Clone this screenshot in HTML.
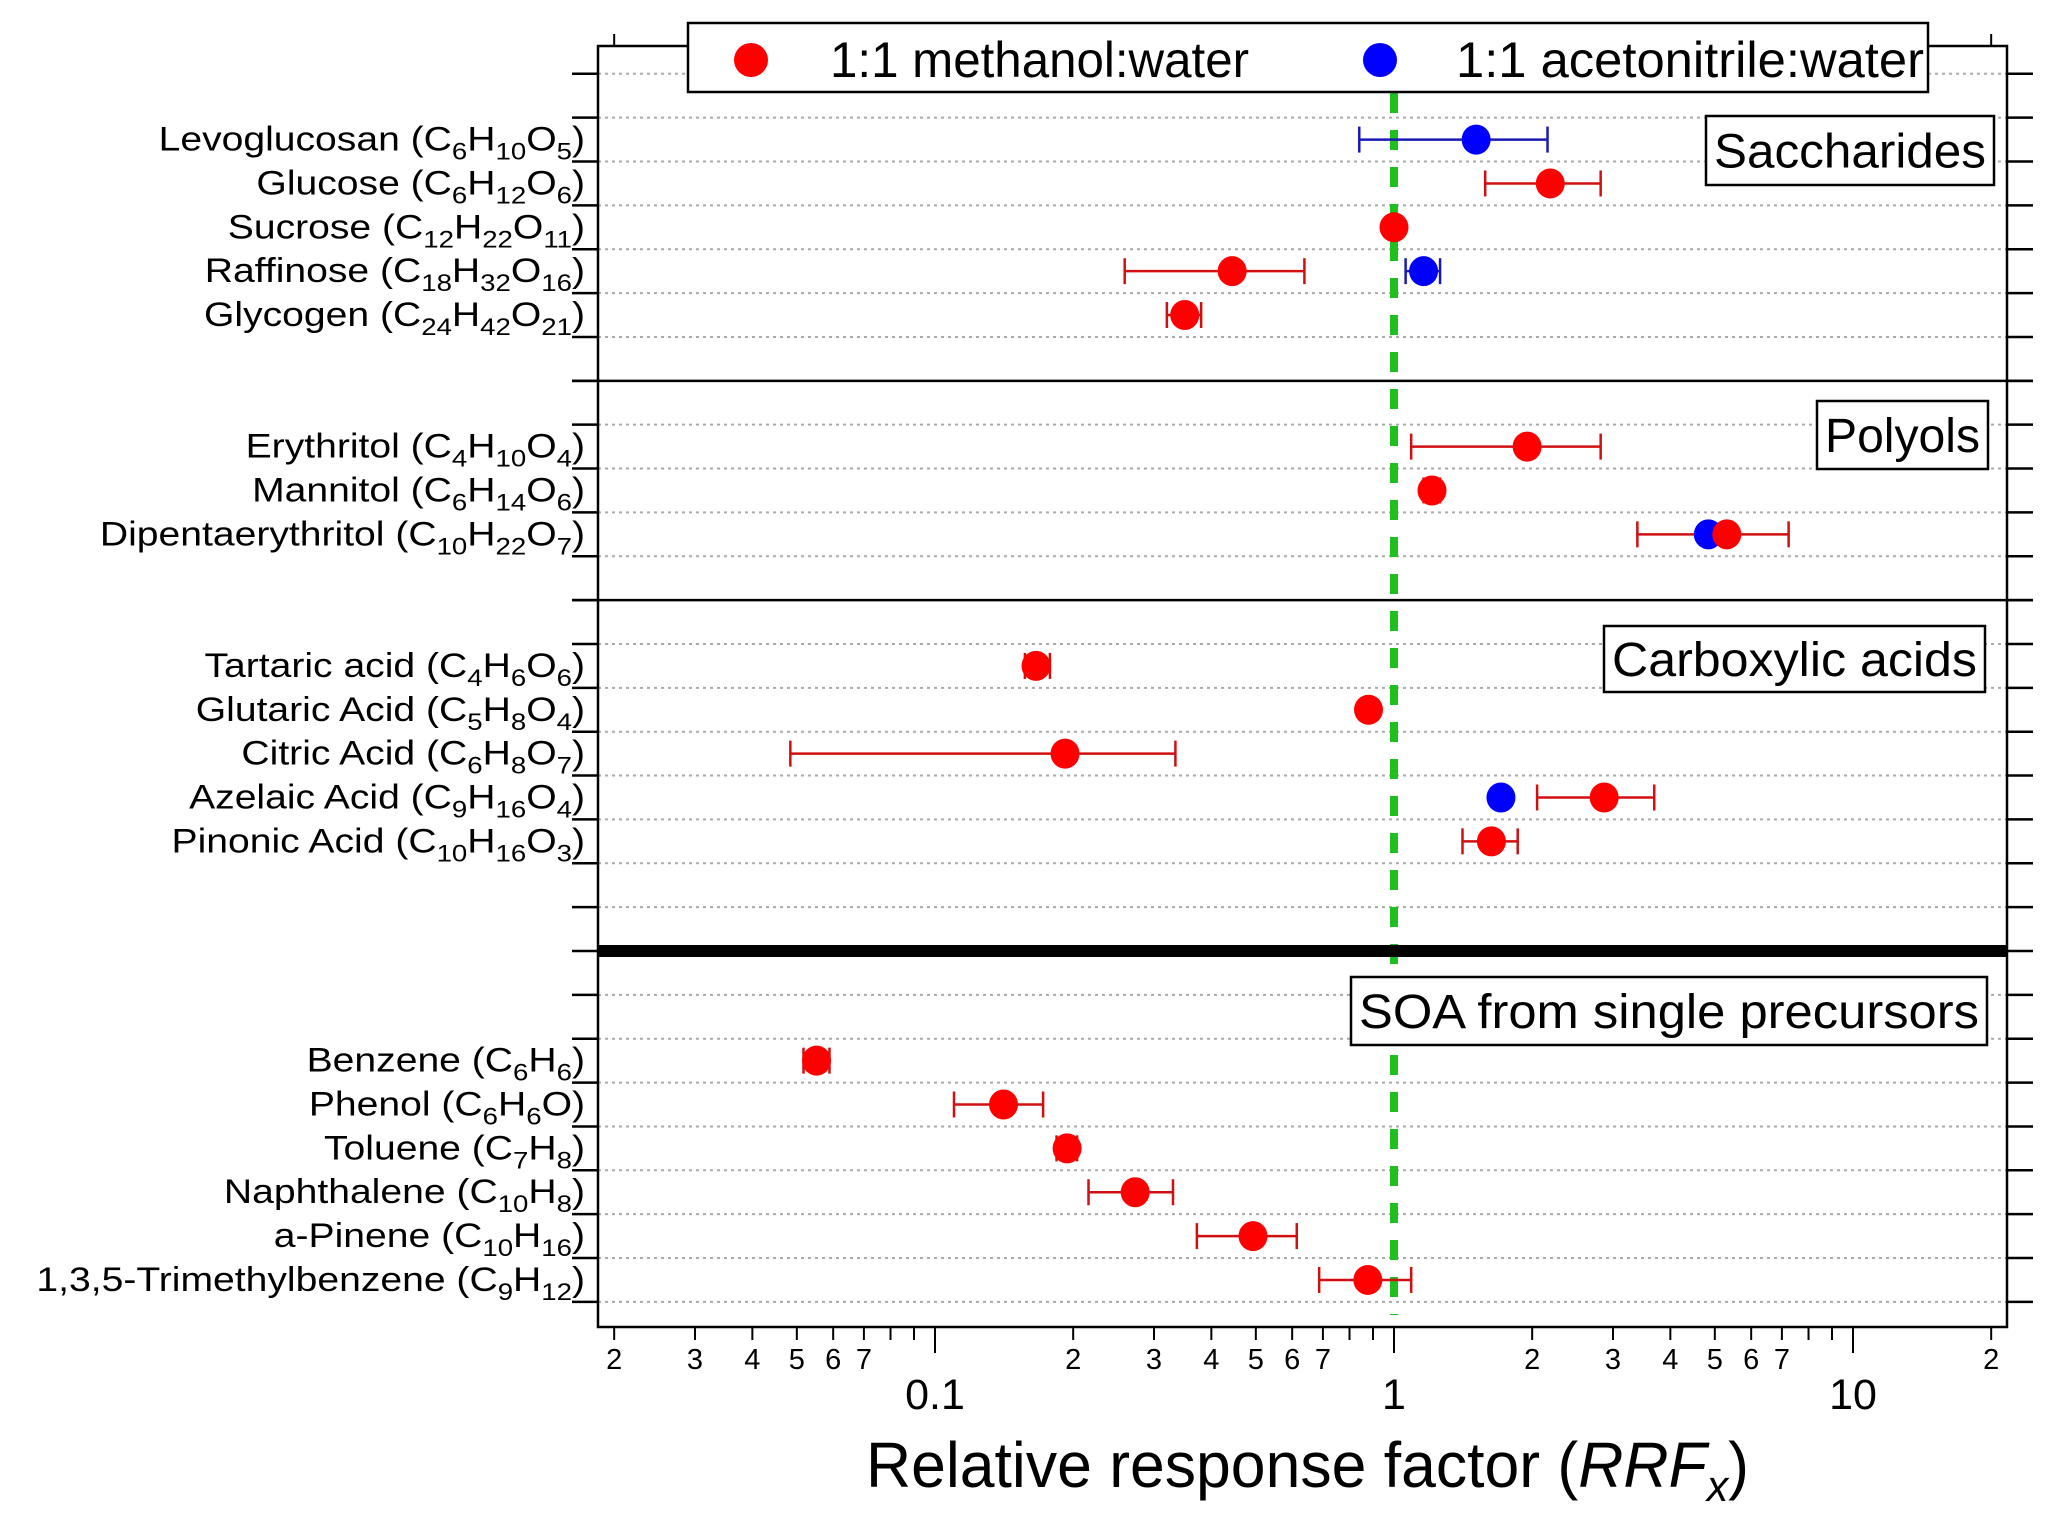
<!DOCTYPE html>
<html><head><meta charset="utf-8"><style>
html,body{margin:0;padding:0;background:#fff;}
svg{display:block;font-family:"Liberation Sans",Arial,sans-serif;}
</style></head><body>
<svg id="chart" width="2067" height="1536" viewBox="0 0 2067 1536" xmlns="http://www.w3.org/2000/svg">
<rect x="0" y="0" width="2067" height="1536" fill="#fff"/>
<g id="grid"></g>
<g id="green"></g>
<g id="marks"></g>
<g id="axes"></g>
<g id="labels"></g>
</svg>
<script>
// ---- data ----
const categories = ["Levoglucosan (C_6H_10O_5)","Glucose (C_6H_12O_6)","Sucrose (C_12H_22O_11)","Raffinose (C_18H_32O_16)","Glycogen (C_24H_42O_21)",
"Erythritol (C_4H_10O_4)","Mannitol (C_6H_14O_6)","Dipentaerythritol (C_10H_22O_7)",
"Tartaric acid (C_4H_6O_6)","Glutaric Acid (C_5H_8O_4)","Citric Acid (C_6H_8O_7)","Azelaic Acid (C_9H_16O_4)","Pinonic Acid (C_10H_16O_3)",
"Benzene (C_6H_6)","Phenol (C_6H_6O)","Toluene (C_7H_8)","Naphthalene (C_10H_8)","a-Pinene (C_10H_16)","1,3,5-Trimethylbenzene (C_9H_12)"];
const rowIndex = [1.5,2.5,3.5,4.5,5.5, 8.5,9.5,10.5, 13.5,14.5,15.5,16.5,17.5, 22.5,23.5,24.5,25.5,26.5,27.5];
const methanolValues = [null,2.19,1.0,0.444,0.35, 1.95,1.21,5.31, 0.166,0.88,0.192,2.87,1.63, 0.0552,0.141,0.194,0.273,0.493,0.877];
const methanolLow    = [null,1.58,null,0.259,0.32, 1.09,1.16,3.39, 0.157,null,0.0484,2.05,1.41, 0.0517,0.110,0.184,0.216,0.372,0.687];
const methanolHigh   = [null,2.82,null,0.638,0.38, 2.82,1.26,7.24, 0.178,null,0.334,3.69,1.86, 0.0589,0.172,0.204,0.330,0.614,1.09];
const acetoValues = [1.51,null,null,1.16,null, null,null,4.84, null,null,null,1.71,null, null,null,null,null,null,null];
const acetoLow    = [0.84,null,null,1.06,null, null,null,null, null,null,null,null,null, null,null,null,null,null,null];
const acetoHigh   = [2.16,null,null,1.26,null, null,null,null, null,null,null,null,null, null,null,null,null,null,null];
const sectionNames = ["Saccharides","Polyols","Carboxylic acids","SOA from single precursors"];
const sectionDividers = [7,12];
const thickDivider = 20;
const majorTicks = [0.1,1,10];
const majorTickLabels = ["0.1","1","10"];
const minorTickLabels = ["2","3","4","5","6","7"];

// ---- axes ----
const L=598,R=2007,T=46,B=1327;
function xs(v){return 1394+459*Math.log10(v);}
function ys(n){return 73.8+43.86*n;}
const NS="http://www.w3.org/2000/svg";
function mk(tag,attrs,parent){const e=document.createElementNS(NS,tag);for(const k in attrs)e.setAttribute(k,attrs[k]);parent.appendChild(e);return e;}
const grid=document.getElementById('grid'),green=document.getElementById('green'),marks=document.getElementById('marks'),axes=document.getElementById('axes'),labels=document.getElementById('labels');

for(let n=0;n<=28;n++){
  if(sectionDividers.includes(n)||n===thickDivider) continue;
  const g=mk('line',{x1:L,x2:R,y1:ys(n),y2:ys(n),stroke:'#aaa','stroke-width':2,'stroke-dasharray':'3 4'},grid);
  
  
}
for(let n=0;n<=28;n++){
  const t1=mk('line',{x1:L-26,x2:L,y1:ys(n),y2:ys(n),stroke:'#000','stroke-width':2.5},axes);
  
  
  const t2=mk('line',{x1:R,x2:R+26,y1:ys(n),y2:ys(n),stroke:'#000','stroke-width':2.5},axes);
  
  
}
sectionDividers.forEach(n=>{
  const d=mk('line',{x1:L-26,x2:R+26,y1:ys(n),y2:ys(n),stroke:'#000','stroke-width':2.5},axes);
  
  
});
{
  const d=mk('line',{x1:L,x2:R,y1:ys(thickDivider),y2:ys(thickDivider),stroke:'#000','stroke-width':12},axes);
  
  
}
{
  const gl=mk('line',{x1:xs(1),x2:xs(1),y1:T+10,y2:B-12,stroke:'#1fbf1f','stroke-width':8,'stroke-dasharray':'20 17'},green);
  
  
}
{
  const f=mk('rect',{x:L,y:T,width:R-L,height:B-T,fill:'none',stroke:'#000','stroke-width':2.5},axes);
  
  
}
for(let d=-2;d<=1;d++){
  for(let m=1;m<=9;m++){
    const v=m*Math.pow(10,d); const x=xs(v);
    if(x<L+5||x>R-5) continue;
    const major=(m===1);
    const t=mk('line',{x1:x,x2:x,y1:B,y2:B+(major?26:13),stroke:'#000','stroke-width':2},axes);
    
    
    const tt=mk('line',{x1:x,x2:x,y1:T,y2:T-(major?0:12),stroke:'#000','stroke-width':2},axes);
    
    
    if(!major && m<=7){
      const tx=mk('text',{x:x,y:1369,'font-size':29,'text-anchor':'middle',fill:'#000'},labels);
      tx.textContent=minorTickLabels[m-2];
      
      
    }
  }
}
majorTicks.forEach((v,i)=>{
  const tx=mk('text',{x:xs(v),y:1409,'font-size':43,'text-anchor':'middle',fill:'#000'},labels);
  tx.textContent=majorTickLabels[i];
  
  
});
{
  const t=mk('text',{x:866,y:1487,'font-size':64,fill:'#000',textLength:883,lengthAdjust:'spacingAndGlyphs'},labels);
  t.innerHTML='Relative response factor (<tspan font-style="italic">RRF</tspan><tspan font-style="italic" font-size="44" dy="14">x</tspan><tspan dy="-14">)</tspan>';
  
  
}
categories.forEach((c,i)=>{
  const y=ys(rowIndex[i])+11;
  const g=mk('g',{transform:`translate(585,${y}) scale(1.15,1)`},labels);
  const t=mk('text',{x:0,y:0,'font-size':34,'text-anchor':'end',fill:'#000'},g);
  
  
  const parts=c.split(/_(\d+)/);
  parts.forEach((p,j)=>{
    if(p==='')return;
    const s=mk('tspan',{},t);
    if(j%2===1){s.setAttribute('font-size',24);s.setAttribute('dy',9);}
    else if(j>0){s.setAttribute('dy',-9);}
    s.textContent=p;
  });
});
function series(vals,lo,hi,fill,bar,name){
  vals.forEach((v,i)=>{
    const y=ys(rowIndex[i]);
    if(lo[i]!=null&&hi[i]!=null){
      const e=mk('g',{stroke:bar,'stroke-width':2.5},marks);
      
      
      mk('line',{x1:xs(lo[i]),x2:xs(hi[i]),y1:y,y2:y},e);
      mk('line',{x1:xs(lo[i]),x2:xs(lo[i]),y1:y-13,y2:y+13},e);
      mk('line',{x1:xs(hi[i]),x2:xs(hi[i]),y1:y-13,y2:y+13},e);
    }
  });
}
function points(vals,fill,name){
  vals.forEach((v,i)=>{
    if(v==null)return;
    const c=mk('ellipse',{cx:xs(v),cy:ys(rowIndex[i]),rx:14.5,ry:15,fill:fill},marks);
    
    
  });
}
series(methanolValues,methanolLow,methanolHigh,'#f00','#d01010','methanol');
series(acetoValues,acetoLow,acetoHigh,'#00f','#1a1ab0','acetonitrile');
points(acetoValues,'#0000ff','acetonitrile');
points(methanolValues,'#ff0000','methanol');

const boxes=[[1706,116,288,69],[1817,401,171,68],[1604,626,381,66],[1351,977,636,68]];
sectionNames.forEach((s,i)=>{
  const [x,y,w,h]=boxes[i];
  const g=mk('g',{},labels);
  
  
  mk('rect',{x:x,y:y,width:w,height:h,fill:'#fff',stroke:'#000','stroke-width':2.5},g);
  const t=mk('text',{x:x+w/2,y:y+h/2+17,'font-size':48,'text-anchor':'middle',fill:'#000',textLength:w-16,lengthAdjust:'spacingAndGlyphs'},g);
  t.textContent=s;
});
{
  const g=mk('g',{},labels);
  
  
  mk('rect',{x:688,y:23,width:1240,height:69,fill:'#fff',stroke:'#000','stroke-width':2.5},g);
  const e1=mk('g',{},g);
  
  
  mk('ellipse',{cx:751,cy:60,rx:17,ry:17,fill:'#ff0000'},e1);
  const t1=mk('text',{x:830,y:77,'font-size':50,fill:'#000',textLength:419,lengthAdjust:'spacingAndGlyphs'},e1);
  t1.textContent='1:1 methanol:water';
  const e2=mk('g',{},g);
  
  
  mk('ellipse',{cx:1380,cy:60,rx:17,ry:17,fill:'#0000ff'},e2);
  const t2=mk('text',{x:1456,y:77,'font-size':50,fill:'#000',textLength:468,lengthAdjust:'spacingAndGlyphs'},e2);
  t2.textContent='1:1 acetonitrile:water';
}
</script>
</body></html>
